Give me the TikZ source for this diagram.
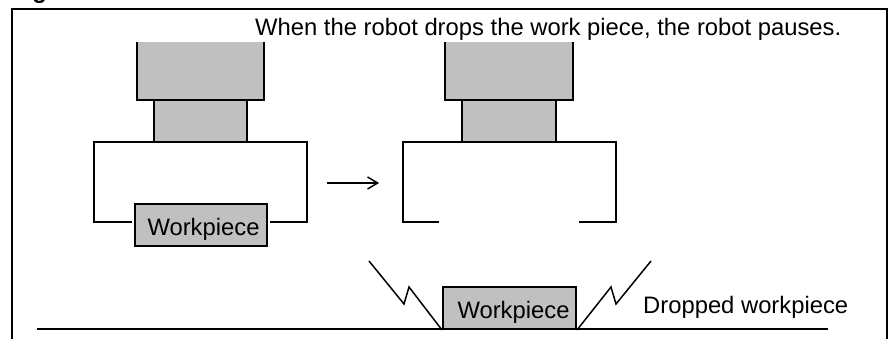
\documentclass[tikz,border=0pt]{standalone}
\usepackage{fontspec}
\setmainfont{Liberation Sans}
\usetikzlibrary{arrows.meta}
\definecolor{partgray}{RGB}{192,192,192}
\begin{document}
\begin{tikzpicture}[x=1pt,y=-1pt,
  outline/.style={draw=black,line width=2pt},
  thin outline/.style={draw=black,line width=1.5pt},
  part/.style={fill=partgray},
  label text/.style={font=\fontsize{23.8}{28}\selectfont,inner sep=0pt},
  piece/.style={part,outline,minimum width=132pt,minimum height=42pt,inner sep=0pt}]
\useasboundingbox (0,0) rectangle (895,339);

% caption heading, cut off by the page edge
\node[label text,font=\fontsize{23.8}{28}\selectfont\bfseries,anchor=base west] (caption) at (11,-1) {Fig};

% outer frame (open at the bottom edge)
\draw[outline,line join=miter] (12,350) -- (12,9) -- (887,9) -- (887,350);

% heading text
\node[label text,anchor=base west] (title) at (255,36)
  {When the robot drops the work piece, the robot pauses.};

% ---------- robot holding the workpiece ----------
\fill[part] (137,42) rectangle (264,100);
\draw[outline] (137,42) -- (137,100) -- (264,100) -- (264,42);
\filldraw[part,outline] (154,100) rectangle (247,141.7);
\draw[outline] (132,221.7) -- (94,221.7) -- (94,141.7) -- (307,141.7) -- (307,221.7) -- (270,221.7);
\node[piece] (heldpiece) at (201,225) {};
\node[label text,anchor=base] (heldlabel) at (203.5,236) {Workpiece};

% ---------- transition arrow ----------
\coordinate (arrA) at (327,183);
\coordinate (arrB) at (379,183);
\draw[line width=1.5pt,-{Straight Barb[length=10pt,width=12pt,line width=1.5pt]}] (arrA) -- (arrB);

% ---------- robot with open, empty gripper ----------
\fill[part] (445,42) rectangle (573,100);
\draw[outline] (445,42) -- (445,100) -- (573,100) -- (573,42);
\filldraw[part,outline] (462,100) rectangle (556,141.7);
\draw[outline] (439,221.7) -- (403,221.7) -- (403,141.7) -- (616,141.7) -- (616,221.7) -- (579,221.7);

% ---------- dropped workpiece on the floor ----------
\draw[outline] (37,329) -- (828,329);
\node[piece,minimum width=133pt] (droppedpiece) at (509.5,308) {};
\node[label text,anchor=base] (droppedlabel) at (513.5,318.5) {Workpiece};
\coordinate (zlA) at (369,261);
\coordinate (zrA) at (651,261);
\draw[thin outline,line join=miter] (zlA) -- (404,304) -- (409,287) -- (droppedpiece.south west);
\draw[thin outline,line join=miter] (droppedpiece.south east) -- (611,287) -- (616,304) -- (zrA);
\node[label text,anchor=base west] (droppedtext) at (643,313) {Dropped workpiece};
\end{tikzpicture}
\end{document}
